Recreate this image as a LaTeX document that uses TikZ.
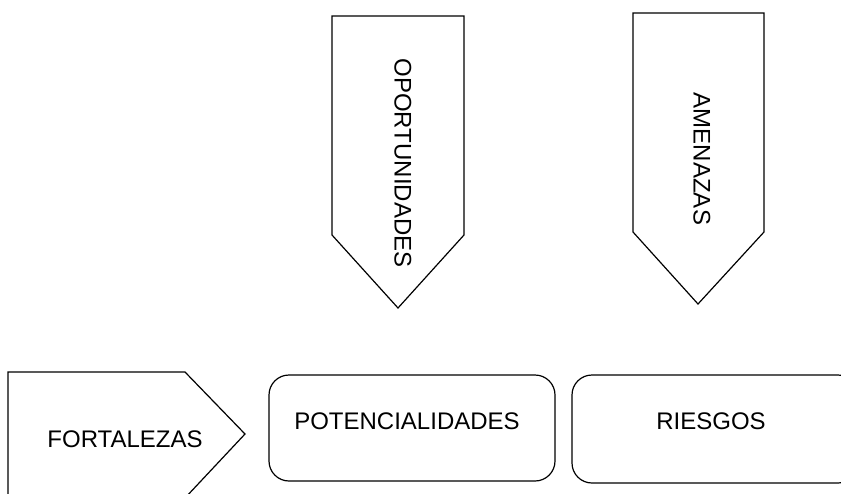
\documentclass[tikz,border=0pt]{standalone}
\usepackage{fontspec}
\setmainfont{Liberation Sans}
\begin{document}
\begin{tikzpicture}[x=1pt,y=-1pt]
    % Define styles
    \tikzset{
        shapeline/.style={draw=black, line width=1.2pt, line join=miter},
        lbl/.style={inner sep=0pt, font=\fontsize{24}{28}\selectfont}
    }

    % Page size and clipping
    \useasboundingbox (0,0) rectangle (841,493);
    \clip (0,0) rectangle (841,493);

    % Draw downward pentagons
    \draw[shapeline] (332,16) -- (464,16) -- (464,235) -- (398,308) -- (332,235) -- cycle;
    \draw[shapeline] (633,13) -- (764,13) -- (764,232) -- (698,304) -- (633,232) -- cycle;

    % Draw right pentagon
    \draw[shapeline] (8,498) -- (8,372) -- (185,372) -- (245,434) -- (185,498);

    % Draw rounded boxes
    \draw[shapeline, rounded corners=20pt] (269,375) rectangle (555,481);
    \draw[shapeline, rounded corners=20pt] (572,375) rectangle (858,483);

    % Labels
    \node[lbl, rotate=-90] (oport) at (403,163) {OPORTUNIDADES};
    \node[lbl, rotate=-90] (amen) at (702,159) {AMENAZAS};
    \node[lbl] (fort) at (125,439) {FORTALEZAS};
    \node[lbl] (pot) at (407,421) {POTENCIALIDADES};
    \node[lbl] (ries) at (711,421) {RIESGOS};
\end{tikzpicture}
\end{document}
